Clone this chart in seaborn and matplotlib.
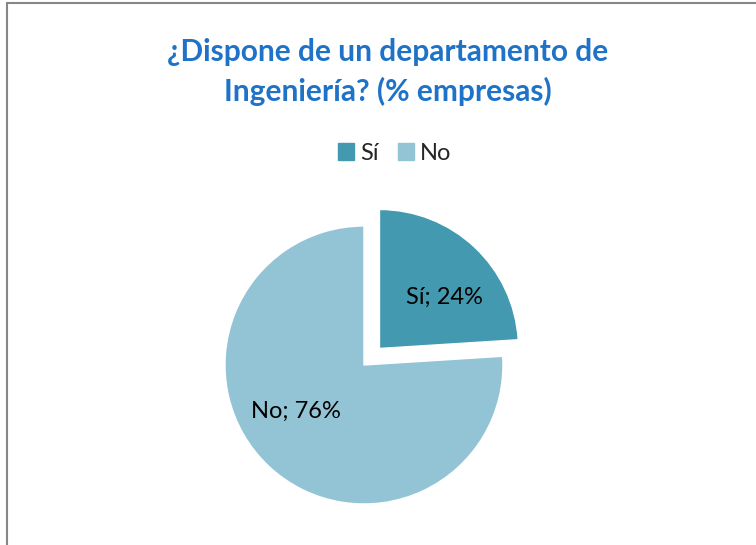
import matplotlib
matplotlib.use("Agg")
import matplotlib.pyplot as plt
import matplotlib.patches as mpatches
import seaborn as sns

# data
categories = ["Sí", "No"]
shares = [24, 76]
title_text = "¿Dispone de un departamento de\nIngeniería? (% empresas)"

sns.set_style("white")
plt.rcParams['font.family'] = ['Lato', 'DejaVu Sans']

palette = sns.color_palette(["#4399AF", "#93C4D6"])

fig = plt.figure(figsize=(7.56, 5.45), dpi=100)

# pie axes, square in pixels
ax = fig.add_axes([0.2516, 0.0115, 0.4597, 0.6376])
labels = [f"{c}; {v}%" for c, v in zip(categories, shares)]
wedges, texts = ax.pie(shares, labels=labels, colors=palette, startangle=90,
                       counterclock=False, explode=[0.163, 0],
                       labeldistance=0.6,
                       textprops=dict(fontsize=17, color="black", ha="center", va="center"))
# Excel's label placement differs a bit from matplotlib's bisector rule
texts[0].set_position((0.579, 0.486))
texts[1].set_position((-0.49, -0.33))
ax.set_xlim(-1.25, 1.25)
ax.set_ylim(-1.25, 1.25)
ax.set_aspect("auto")
ax.axis("off")

fig.text(0.513, 0.868, title_text, ha="center", va="center", fontsize=21.5,
         fontweight="bold", color="#1E73C8", linespacing=1.45)

handles = [mpatches.Patch(color=palette[i], label=categories[i]) for i in range(len(categories))]
fig.legend(handles=handles, loc="center", bbox_to_anchor=(0.522, 0.719), ncol=2,
           frameon=False, fontsize=17, handlelength=0.7, handleheight=0.7,
           handletextpad=0.25, columnspacing=0.8)

# chart border (cropped on right and bottom)
fig.patches.append(mpatches.Rectangle((7 / 756, -0.1), 1.2, 1.1 - 3 / 545,
                                      transform=fig.transFigure, fill=False,
                                      edgecolor="#878787", linewidth=1.5))

fig.savefig("out.png", dpi=100)
